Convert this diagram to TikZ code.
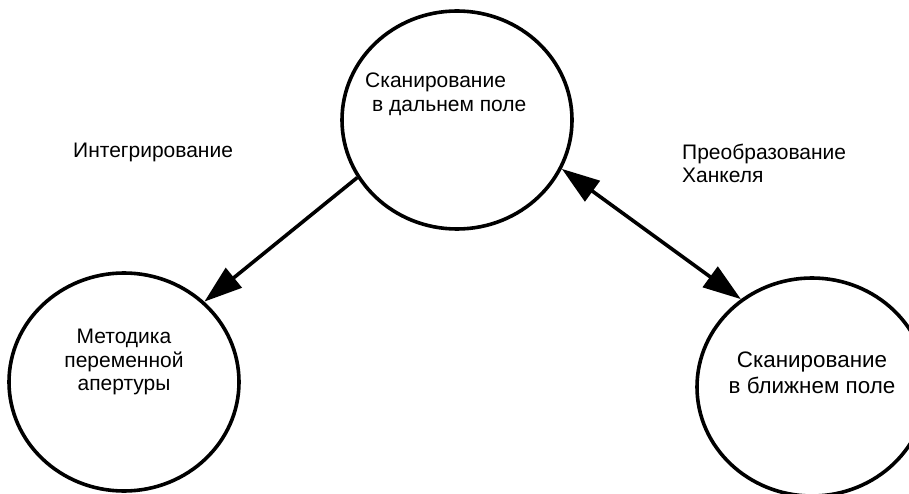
\documentclass[tikz,border=0pt]{standalone}
\usepackage{fontspec}
\setmainfont{Liberation Sans}
\usetikzlibrary{shapes.geometric,arrows.meta}
\begin{document}
\begin{tikzpicture}[x=1pt,y=-1pt,
  circ/.style={ellipse, draw, line width=3.6pt, minimum width=230pt, minimum height=218pt, inner sep=0pt},
  lbl/.style={font=\fontsize{21}{24}\selectfont, inner sep=0pt},
  conn/.style={line width=3.6pt, -{Triangle[length=38pt,width=25pt]}},
  bconn/.style={line width=3.6pt, {Triangle[length=38pt,width=25pt]}-{Triangle[length=38pt,width=25pt]}}
]
\clip (0,0) rectangle (909,494);
\fill[white] (0,0) rectangle (909,494);
\node[circ] (far) at (457,120) {};
\node[circ] (var) at (124,382) {};
\node[circ] (near) at (812,387) {};

\node[lbl, anchor=base west] (farA) at (365,88) {Сканирование};
\node[lbl, anchor=base west] (farB) at (372,112) {в дальнем поле};

\node[lbl, anchor=base] (varA) at (124,343) {Методика};
\node[lbl, anchor=base] (varB) at (124,367) {переменной};
\node[lbl, anchor=base] (varC) at (124,390) {апертуры};

\node[lbl, font=\fontsize{22.4}{26}\selectfont, anchor=base] (nearA) at (812,367) {Сканирование};
\node[lbl, font=\fontsize{22.4}{26}\selectfont, anchor=base] (nearB) at (812,393) {в ближнем поле};

\node[lbl, anchor=base west] (integ) at (73,158) {Интегрирование};
\node[lbl, anchor=base west] (hankA) at (682,160) {Преобразование};
\node[lbl, anchor=base west] (hankB) at (682,183) {Ханкеля};

\draw[conn] (far.210) -- (var.45);
\draw[bconn] (far.335) -- (near.129);
\end{tikzpicture}
\end{document}
